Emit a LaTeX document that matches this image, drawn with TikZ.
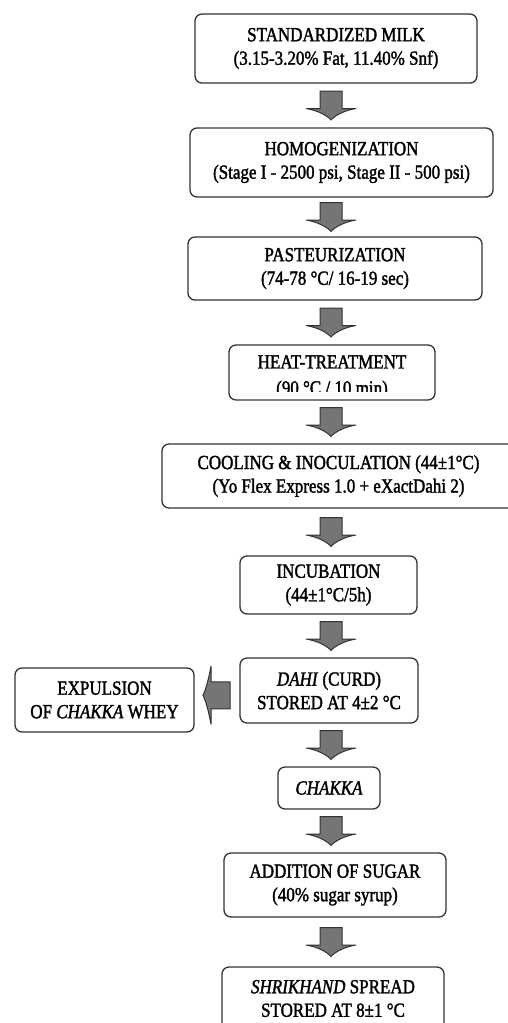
\documentclass[tikz,border=0pt]{standalone}
\usepackage{fontspec}
\setmainfont{Liberation Serif}[FakeStretch=0.85, FakeBold=1.6]
\usetikzlibrary{calc}
\definecolor{edge}{HTML}{333333}
\definecolor{arrowgray}{HTML}{757575}
\tikzset{
  box/.style={draw=edge, line width=1.3pt, rounded corners=7pt, fill=white,
    align=center, inner sep=0pt, font=\fontsize{20}{23.5}\selectfont},
  txt/.style={align=center, inner sep=0pt, font=\fontsize{20}{26}\selectfont},
  arrowfill/.style={fill=arrowgray, draw=edge, line width=1pt, line join=miter},
  blockdown/.pic={
    \filldraw[arrowfill] (-11,-14.5) -- (11,-14.5) -- (11,3) -- (25,3)
      .. controls (13,5) and (4,10) .. (0,14.5)
      .. controls (-4,10) and (-13,5) .. (-25,3) -- (-11,3) -- cycle;
  },
  blockleft/.pic={
    \filldraw[arrowfill] (13,-13.5) -- (13,13.5) -- (-6,13.5) -- (-6,29)
      .. controls (-8,18) and (-11,6) .. (-14,0)
      .. controls (-11,-6) and (-8,-18) .. (-6,-29) -- (-6,-13.5) -- cycle;
  }
}
\begin{document}
\begin{tikzpicture}[x=1pt, y=-1pt]
\fill[white] (0,0) rectangle (507,1023);
\useasboundingbox (0,0) rectangle (507,1023);

\node[box, minimum width=282pt, minimum height=69pt] (b1) at (336,48.5)
  {STANDARDIZED MILK\\(3.15-3.20\% Fat, 11.40\% Snf)};
\node[box, minimum width=303pt, minimum height=69pt] (b2) at (341.5,162.5)
  {HOMOGENIZATION\\(Stage I - 2500 psi, Stage II - 500 psi)};
\node[box, minimum width=294pt, minimum height=63pt] (b3) at (335,268.5)
  {PASTEURIZATION\\(74-78 °C/ 16-19 sec)};
\node[box, minimum width=206pt, minimum height=55pt] (b4) at (332,372.5) {};
\begin{scope}
  \clip (229,345) rectangle (435,391);
  \node[txt] (t4) at (332,377) {HEAT-TREATMENT\\(90 °C / 10 min)};
\end{scope}
\node[box, minimum width=353pt, minimum height=64pt] (b5) at (338.5,476)
  {COOLING \& INOCULATION (44±1°C)\\(Yo Flex Express 1.0 + eXactDahi 2)};
\node[box, minimum width=177pt, minimum height=58pt] (b6) at (328.5,585)
  {INCUBATION\\(44±1°C/5h)};
\node[box, minimum width=178pt, minimum height=65pt] (b7) at (329,690.5)
  {\textit{DAHI} (CURD)\\STORED AT 4±2 °C};
\node[box, minimum width=102pt, minimum height=42pt] (b8) at (329,788)
  {\textit{CHAKKA}};
\node[box, minimum width=222pt, minimum height=64pt] (b9) at (335,885)
  {ADDITION OF SUGAR\\(40\% sugar syrup)};
\node[box, minimum width=222pt, minimum height=63pt] (b10) at (333,998.5)
  {\textit{SHRIKHAND} SPREAD\\STORED AT 8±1 °C};
\node[box, minimum width=179pt, minimum height=64pt] (ex) at (104.5,700)
  {EXPULSION\\OF \textit{CHAKKA} WHEY};

\coordinate (ax) at (331,0);
\foreach \a/\b [count=\i] in {b1/b2,b2/b3,b3/b4,b4/b5,b5/b6,b6/b7,b7/b8,b8/b9,b9/b10}{
  \coordinate (m\i) at ($(\a.south)!0.5!(\b.north)$);
  \pic at (ax |- m\i) {blockdown};
}
\coordinate (mx) at ($(ex.east)!0.5!(b7.west)$);
\pic at (mx) {blockleft};
\end{tikzpicture}
\end{document}
